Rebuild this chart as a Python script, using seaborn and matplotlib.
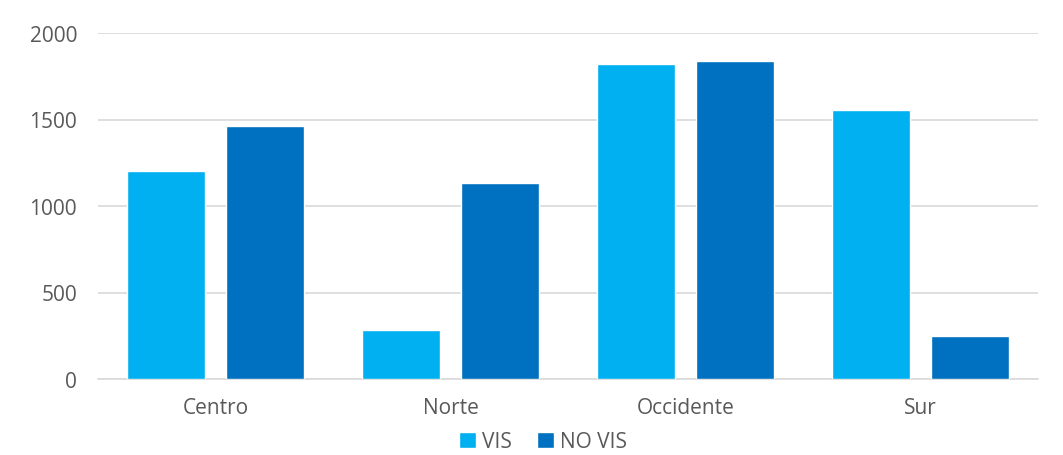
import matplotlib
matplotlib.use("Agg")
import matplotlib.pyplot as plt
import seaborn as sns
import pandas as pd

categories = ["Centro", "Norte", "Occidente", "Sur"]
vis_values = [1203, 284, 1821, 1554]
novis_values = [1460, 1133, 1839, 250]
series_names = ["VIS", "NO VIS"]
y_ticks = [0, 500, 1000, 1500, 2000]

df = pd.DataFrame({
    "Zona": categories * 2,
    "Valor": vis_values + novis_values,
    "Tipo": [series_names[0]] * len(categories) + [series_names[1]] * len(categories),
})

sns.set_theme(style="white")
plt.rcParams["font.family"] = ["Open Sans", "DejaVu Sans"]

fig = plt.figure(figsize=(10.63, 4.56), dpi=100)
ax = fig.add_axes([98 / 1063, 1 - 380 / 456, (1038 - 98) / 1063, (380 - 34) / 456])

sns.barplot(data=df, x="Zona", y="Valor", hue="Tipo", order=categories,
            hue_order=series_names, palette=["#00B0F0", "#0070C0"],
            width=0.84, gap=0.21, saturation=1, ax=ax, legend=True, zorder=3)

ax.set_ylim(0, 2000)
ax.set_yticks(y_ticks)
ax.set_yticklabels([str(t) for t in y_ticks])
ax.set_xlim(-0.5, len(categories) - 0.5)
ax.set_xlabel("")
ax.set_ylabel("")
ax.grid(axis="y", color="#d9d9d9", linewidth=1.2, zorder=0)
ax.set_axisbelow(True)
for side in ["top", "right", "left"]:
    ax.spines[side].set_visible(False)
ax.spines["bottom"].set_color("#d9d9d9")
ax.spines["bottom"].set_linewidth(1.2)
ax.tick_params(axis="both", length=0, labelsize=15, colors="#595959")
ax.tick_params(axis="y", pad=15)
ax.tick_params(axis="x", pad=13)

handles, labels = ax.get_legend_handles_labels()
ax.get_legend().remove()
fig.legend(handles, labels, loc="center", bbox_to_anchor=(543 / 1063, 1 - 443 / 456),
           ncol=2, frameon=False, fontsize=15, labelcolor="#595959",
           handlelength=0.8, handleheight=0.8, handletextpad=0.3, columnspacing=1.2,
           borderpad=0.1)

fig.savefig("out.png", dpi=100, facecolor="white")
